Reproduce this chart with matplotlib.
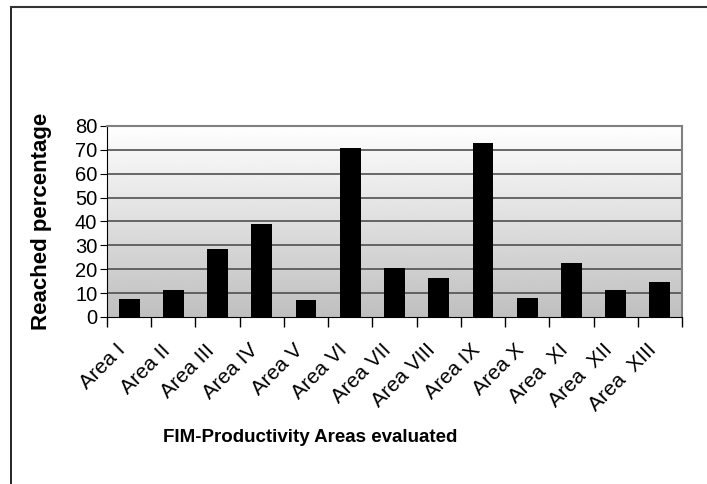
import matplotlib.pyplot as plt
import matplotlib.transforms as mtransforms
import numpy as np
from matplotlib.lines import Line2D

areas = ["Area I", "Area II", "Area III", "Area IV", "Area V", "Area VI",
         "Area VII", "Area VIII", "Area IX", "Area X", "Area  XI",
         "Area  XII", "Area  XIII"]
reached = [7.5, 11.5, 28.3, 38.9, 7.3, 70.9, 20.4, 16.4, 72.9, 8.0, 22.7,
           11.5, 14.5]
y_ticks = [0, 10, 20, 30, 40, 50, 60, 70, 80]


def main():
    plt.rcParams['font.family'] = ['Liberation Sans', 'DejaVu Sans']
    fig = plt.figure(figsize=(7.07, 4.84), dpi=100)
    W, H = 707, 484
    ax = fig.add_axes([107 / W, 1 - 317 / H, (682 - 107) / W, (317 - 126) / H])

    x = np.arange(len(areas))
    ax.bar(x, reached, width=0.47, color='black', zorder=3)

    # gradient background, white at top to grey at bottom
    grad = np.linspace(1.0, 0.75, 256).reshape(-1, 1)
    ax.imshow(grad, cmap='gray', vmin=0, vmax=1, aspect='auto',
              extent=(-0.5, len(areas) - 0.5, 0, 80), zorder=0)

    ax.set_xlim(-0.5, len(areas) - 0.5)
    ax.set_ylim(0, 80)
    ax.set_yticks(y_ticks)
    ax.tick_params(axis='y', labelsize=14.5, length=5, pad=2)
    for v in y_ticks[1:-1]:
        ax.axhline(v, color='#505050', linewidth=1.2, zorder=1)

    ax.set_xticks(np.arange(len(areas) + 1) - 0.5)
    ax.set_xticklabels([])
    ax.tick_params(axis='x', length=7, width=1)
    ax.set_xticks(x, minor=True)
    ax.set_xticklabels(areas, minor=True, rotation=45, ha='right',
                       rotation_mode='anchor', fontsize=15)
    ax.tick_params(axis='x', which='minor', length=0, pad=17)
    shift = mtransforms.ScaledTranslation(-13 / 100, 0, fig.dpi_scale_trans)
    for lbl in ax.get_xticklabels(minor=True):
        lbl.set_transform(lbl.get_transform() + shift)

    for side in ['top', 'right']:
        ax.spines[side].set_color('#808080')
        ax.spines[side].set_linewidth(1.5)
    ax.spines['left'].set_color('black')
    ax.spines['bottom'].set_color('black')

    fig.text(42 / W, 1 - 221 / H, "Reached percentage", rotation=90,
             ha='center', va='center', fontsize=16, fontweight='bold')
    fig.text(310 / W, 1 - 437 / H, "FIM-Productivity Areas evaluated",
             ha='center', va='center', fontsize=13.5, fontweight='bold')

    # outer frame (top and left edges)
    fig.add_artist(Line2D([11 / W, 11 / W], [0, 1 - 7 / H],
                          transform=fig.transFigure, color='black', lw=1.2))
    fig.add_artist(Line2D([11 / W, 1], [1 - 7 / H, 1 - 7 / H],
                          transform=fig.transFigure, color='#333333', lw=1.5))

    fig.savefig("out.png", dpi=100)


if __name__ == "__main__":
    main()
